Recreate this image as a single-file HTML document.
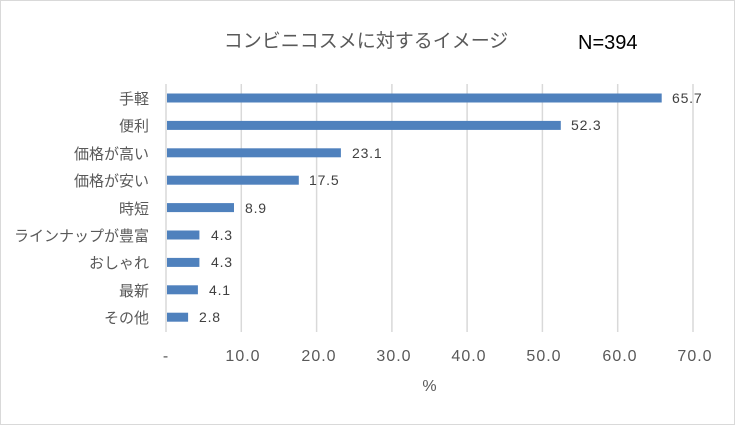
<!DOCTYPE html>
<html><head><meta charset="utf-8"><style>
body{margin:0;background:#fff}
svg text{font-family:"Liberation Sans","Noto Sans CJK JP",sans-serif}
</style></head><body>
<svg width="735" height="425" xmlns="http://www.w3.org/2000/svg">
<rect x="0.5" y="0.5" width="734" height="424" fill="#fff" stroke="#d9d9d9"/>
<text x="366" y="47" font-size="19" fill="#595959" text-anchor="middle">コンビニコスメに対するイメージ</text>
<text x="578" y="49" font-size="20" fill="#000">N=394</text>
<g stroke="#d9d9d9" stroke-width="1.5">
<line x1="166" y1="84" x2="166" y2="332"/><line x1="241.3" y1="84" x2="241.3" y2="332"/><line x1="316.6" y1="84" x2="316.6" y2="332"/><line x1="391.9" y1="84" x2="391.9" y2="332"/><line x1="467.1" y1="84" x2="467.1" y2="332"/><line x1="542.4" y1="84" x2="542.4" y2="332"/><line x1="617.7" y1="84" x2="617.7" y2="332"/><line x1="693" y1="84" x2="693" y2="332"/>
</g>
<g fill="#4f81bd">
<rect x="167" y="93.5" width="494.7" height="9"/>
<rect x="167" y="120.9" width="393.8" height="9"/>
<rect x="167" y="148.3" width="173.9" height="9"/>
<rect x="167" y="175.7" width="131.8" height="9"/>
<rect x="167" y="203.1" width="67" height="9"/>
<rect x="167" y="230.5" width="32.4" height="9"/>
<rect x="167" y="257.9" width="32.4" height="9"/>
<rect x="167" y="285.3" width="30.9" height="9"/>
<rect x="167" y="312.7" width="21.1" height="9"/>
</g>
<g font-size="14" fill="#404040" letter-spacing="0.8">
<text x="672" y="103">65.7</text><text x="571" y="130">52.3</text><text x="352" y="158">23.1</text><text x="309" y="185">17.5</text><text x="245" y="213">8.9</text><text x="211" y="240">4.3</text><text x="211" y="267">4.3</text><text x="209" y="295">4.1</text><text x="199" y="322">2.8</text>
</g>
<g font-size="15" fill="#595959" text-anchor="end">
<text x="149" y="104">手軽</text><text x="149" y="131">便利</text><text x="149" y="159">価格が高い</text><text x="149" y="186">価格が安い</text><text x="149" y="214">時短</text><text x="149" y="241">ラインナップが豊富</text><text x="149" y="268">おしゃれ</text><text x="149" y="296">最新</text><text x="149" y="323">その他</text>
</g>
<g font-size="16" fill="#595959" text-anchor="middle" letter-spacing="1">
<text x="166" y="361">-</text><text x="243" y="361">10.0</text><text x="319" y="361">20.0</text><text x="394" y="361">30.0</text><text x="469" y="361">40.0</text><text x="544" y="361">50.0</text><text x="620" y="361">60.0</text><text x="695" y="361">70.0</text>
<text x="430" y="391">%</text>
</g>
</svg>
</body></html>
